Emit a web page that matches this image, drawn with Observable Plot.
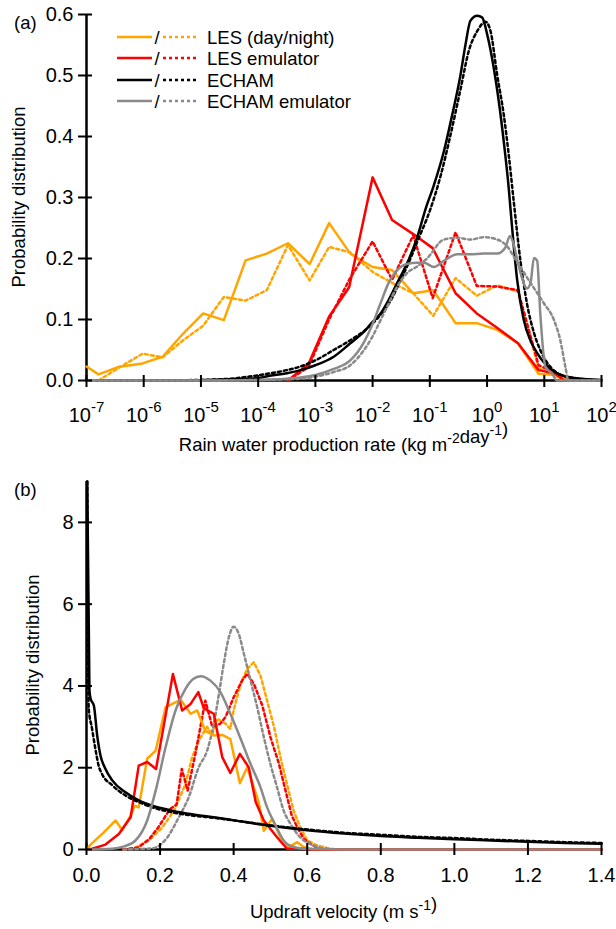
<!DOCTYPE html>
<html>
<head>
<meta charset="utf-8">
<script src="https://cdn.jsdelivr.net/npm/d3@7"></script>
<script src="https://cdn.jsdelivr.net/npm/@observablehq/plot@0.6"></script>
<style>
  body { margin: 0; background: #fff; }
  #chart { position: relative; width: 616px; height: 929px; }
  #chart svg { display: block; }
</style>
</head>
<body>
<div id="chart"></div>
<script>
// ---------- colours & legend ----------
const ORANGE = "#ffa500", RED = "#ff0000", BLACK = "#000000", GREY = "#8a8a8a";
const legendNames = ["LES (day/night)", "LES emulator", "ECHAM", "ECHAM emulator"];
const legendColors = [ORANGE, RED, BLACK, GREY];

// ---------- panel (a): rain water production rate (log10 of kg m-2 day-1) ----------
const rateTicks = [1e-7, 1e-6, 1e-5, 1e-4, 1e-3, 1e-2, 1e-1, 1e0, 1e1, 1e2];
const pdfTicksA = [0, 0.1, 0.2, 0.3, 0.4, 0.5, 0.6];

const lesDayLogR = [-7.0, -6.79, -6.45, -6.02, -5.67, -5.31, -4.96, -4.6, -4.22, -3.85, -3.48, -3.1, -2.76, -2.39, -2.0, -1.66, -1.29, -0.94, -0.55, -0.18, 0.18, 0.54, 0.9, 1.18, 1.4, 2.0];
const lesDayP    = [0.023, 0.010, 0.022, 0.028, 0.039, 0.077, 0.110, 0.099, 0.197, 0.208, 0.225, 0.191, 0.258, 0.208, 0.186, 0.181, 0.143, 0.148, 0.094, 0.094, 0.083, 0.061, 0.011, 0.009, 0, 0];

const lesNightLogR = [-6.79, -6.45, -6.02, -5.67, -5.31, -4.96, -4.6, -4.22, -3.85, -3.48, -3.1, -2.76, -2.39, -2.0, -1.66, -1.29, -0.94, -0.55, -0.18, 0.18, 0.54, 0.9, 1.18, 1.4, 2.0];
const lesNightP    = [0, 0.02, 0.044, 0.038, 0.066, 0.09, 0.137, 0.131, 0.148, 0.222, 0.164, 0.219, 0.21, 0.178, 0.16, 0.143, 0.106, 0.168, 0.139, 0.156, 0.146, 0.02, 0.008, 0, 0];

const lesEmuDayLogR = [-3.48, -3.12, -2.76, -2.41, -2.0, -1.66, -1.29, -0.95, -0.55, -0.18, 0.18, 0.54, 0.9, 1.18, 1.35, 2.0];
const lesEmuDayP    = [0, 0.027, 0.105, 0.153, 0.333, 0.263, 0.24, 0.217, 0.143, 0.11, 0.086, 0.061, 0.017, 0.012, 0, 0];

const lesEmuNightLogR = [-3.48, -3.12, -2.76, -2.41, -2.0, -1.66, -1.29, -0.95, -0.55, -0.18, 0.18, 0.54, 0.9, 1.18, 1.45, 2.0];
const lesEmuNightP    = [0, 0.022, 0.1, 0.165, 0.228, 0.165, 0.238, 0.135, 0.243, 0.155, 0.154, 0.148, 0.025, 0.013, 0.003, 0];

const echamDayLogR = [-7, -6, -5, -4.5, -4, -3.84, -3.5, -3.26, -3.0, -2.68, -2.39, -2.15, -2.02, -1.86, -1.72, -1.57, -1.45, -1.37, -1.22, -1.075, -0.93, -0.756, -0.61, -0.464, -0.376, -0.29, -0.17, -0.085, 0.003, 0.118, 0.206, 0.293, 0.38, 0.41, 0.526, 0.64, 0.76, 0.876, 0.99, 1.22, 1.46, 2.0];
const echamDayP    = [0, 0, 0.0005, 0.002, 0.004, 0.007, 0.012, 0.017, 0.025, 0.039, 0.061, 0.08, 0.094, 0.11, 0.132, 0.16, 0.182, 0.198, 0.235, 0.281, 0.32, 0.375, 0.435, 0.501, 0.551, 0.59, 0.598, 0.595, 0.567, 0.512, 0.457, 0.391, 0.314, 0.281, 0.165, 0.1, 0.065, 0.045, 0.03, 0.012, 0.005, 0.001];

const echamNightLogR = [-7, -6, -5, -4.48, -3.84, -3.5, -3.26, -3.0, -2.68, -2.39, -2.1, -1.86, -1.69, -1.51, -1.37, -1.2, -0.99, -0.81, -0.64, -0.46, -0.32, -0.17, -0.027, 0.06, 0.177, 0.293, 0.38, 0.468, 0.585, 0.70, 0.82, 0.93, 1.11, 1.4, 2.0];
const echamNightP    = [0, 0, 0.001, 0.003, 0.011, 0.017, 0.023, 0.033, 0.05, 0.066, 0.085, 0.108, 0.13, 0.165, 0.193, 0.232, 0.281, 0.336, 0.402, 0.479, 0.54, 0.573, 0.588, 0.573, 0.501, 0.435, 0.369, 0.292, 0.195, 0.125, 0.078, 0.05, 0.022, 0.006, 0];

const echamEmuDayLogR = [-7, -5, -4, -3.5, -3.26, -3.0, -2.68, -2.39, -2.15, -2.02, -1.86, -1.72, -1.57, -1.40, -1.22, -1.1, -0.93, -0.756, -0.52, -0.29, -0.057, 0.177, 0.32, 0.40, 0.456, 0.555, 0.70, 0.76, 0.82, 0.876, 0.93, 1.02, 1.14, 1.22, 2.0];
const echamEmuDayP    = [0, 0, 0.001, 0.003, 0.005, 0.009, 0.019, 0.033, 0.063, 0.088, 0.127, 0.16, 0.181, 0.191, 0.193, 0.193, 0.186, 0.196, 0.207, 0.207, 0.208, 0.208, 0.218, 0.237, 0.226, 0.187, 0.151, 0.16, 0.201, 0.196, 0.11, 0.022, 0.011, 0, 0];

const echamEmuNightLogR = [-7, -5, -4, -3.5, -3.26, -2.68, -2.39, -2.15, -2.02, -1.86, -1.72, -1.57, -1.40, -1.22, -1.05, -0.756, -0.52, -0.29, -0.057, 0.177, 0.35, 0.5, 0.76, 0.99, 1.17, 1.28, 1.37, 1.42, 2.0];
const echamEmuNightP    = [0, 0, 0.001, 0.002, 0.003, 0.014, 0.025, 0.05, 0.069, 0.099, 0.126, 0.154, 0.176, 0.187, 0.2, 0.231, 0.234, 0.231, 0.235, 0.231, 0.22, 0.198, 0.16, 0.127, 0.099, 0.066, 0.022, 0, 0];

// ---------- panel (b): updraft velocity (m s-1) ----------
const velTicks = [0, 0.2, 0.4, 0.6, 0.8, 1.0, 1.2, 1.4];
const pdfTicksB = [0, 2, 4, 6, 8];

const lesDayW = [0.0, 0.011, 0.047, 0.079, 0.097, 0.12, 0.131, 0.142, 0.165, 0.188, 0.215, 0.256, 0.283, 0.301, 0.323, 0.346, 0.37, 0.391, 0.417, 0.437, 0.468, 0.482, 0.505, 0.527, 0.55, 0.573, 0.59, 0.62, 1.4];
const lesDayWP = [0, 0.12, 0.42, 0.71, 0.48, 0.83, 1.07, 1.03, 2.22, 2.42, 3.48, 3.66, 3.32, 3.4, 2.9, 2.79, 2.8, 2.70, 1.62, 2.01, 1.16, 0.46, 0.75, 0.30, 0.06, 0.18, 0.06, 0, 0];

const lesNightW  = [0.1, 0.127, 0.17, 0.206, 0.238, 0.269, 0.287, 0.305, 0.328, 0.342, 0.355, 0.378, 0.391, 0.4, 0.419, 0.437, 0.455, 0.473, 0.491, 0.51, 0.527, 0.545, 0.563, 0.581, 0.6, 0.627, 0.654, 0.68, 1.4];
const lesNightWP = [0, 0.02, 0.22, 0.54, 0.95, 1.6, 2.25, 2.66, 3.0, 2.8, 3.2, 3.08, 2.95, 3.4, 4.05, 4.42, 4.58, 4.25, 3.64, 2.99, 2.26, 1.6, 0.95, 0.54, 0.22, 0.1, 0.04, 0, 0];

const lesEmuDayW  = [0.0, 0.0155, 0.0516, 0.088, 0.12, 0.142, 0.165, 0.189, 0.215, 0.235, 0.26, 0.283, 0.304, 0.319, 0.346, 0.369, 0.391, 0.417, 0.441, 0.46, 0.482, 0.518, 0.545, 0.58, 0.62, 1.4];
const lesEmuDayWP = [0, 0.02, 0.12, 0.38, 0.79, 2.05, 2.14, 1.97, 3.28, 4.29, 3.40, 3.56, 3.85, 3.45, 3.32, 2.26, 1.87, 2.34, 2.01, 1.16, 0.71, 0.30, 0.02, 0.02, 0, 0];

const lesEmuNightW  = [0.1, 0.141, 0.17, 0.195, 0.227, 0.245, 0.259, 0.275, 0.296, 0.323, 0.342, 0.364, 0.378, 0.4, 0.423, 0.437, 0.455, 0.478, 0.5, 0.523, 0.541, 0.558, 0.573, 0.591, 0.61, 0.627, 0.66, 1.4];
const lesEmuNightWP = [0, 0.05, 0.25, 0.54, 0.99, 1.1, 1.97, 1.44, 2.34, 3.64, 3.0, 3.08, 3.24, 3.72, 4.13, 4.3, 4.05, 3.52, 2.75, 2.1, 1.44, 0.83, 0.54, 0.26, 0.13, 0.04, 0, 0];

const echamDayW  = [0.002, 0.008, 0.011, 0.02, 0.029, 0.038, 0.05, 0.07, 0.106, 0.142, 0.179, 0.233, 0.287, 0.351, 0.41, 0.5, 0.6, 0.7, 0.8, 0.9, 1.0, 1.1, 1.2, 1.3, 1.4];
const echamDayWP = [9.0, 3.9, 3.69, 3.52, 2.79, 2.3, 2.0, 1.69, 1.4, 1.2, 1.07, 0.95, 0.86, 0.78, 0.70, 0.58, 0.47, 0.39, 0.33, 0.29, 0.25, 0.22, 0.19, 0.16, 0.14];

const echamNightW  = [0.002, 0.006, 0.015, 0.024, 0.033, 0.042, 0.07, 0.106, 0.142, 0.179, 0.233, 0.287, 0.351, 0.41, 0.5, 0.6, 0.7, 0.8, 0.9, 1.0, 1.1, 1.2, 1.3, 1.4];
const echamNightWP = [9.0, 3.45, 2.96, 2.47, 2.05, 1.85, 1.57, 1.32, 1.16, 1.03, 0.91, 0.83, 0.77, 0.70, 0.59, 0.49, 0.41, 0.36, 0.31, 0.28, 0.24, 0.21, 0.18, 0.16];

const echamEmuDayW  = [0, 0.07, 0.1, 0.133, 0.165, 0.188, 0.215, 0.242, 0.269, 0.29, 0.31, 0.337, 0.364, 0.391, 0.419, 0.446, 0.473, 0.491, 0.514, 0.536, 0.563, 0.6, 0.7, 1.4];
const echamEmuDayWP = [0, 0.02, 0.07, 0.22, 0.71, 1.44, 2.5, 3.4, 3.93, 4.17, 4.24, 4.13, 3.85, 3.32, 2.71, 2.09, 1.52, 1.03, 0.59, 0.22, 0.06, 0.01, 0, 0];

const echamEmuNightW  = [0.1, 0.179, 0.22, 0.251, 0.278, 0.305, 0.328, 0.346, 0.36, 0.373, 0.387, 0.4, 0.414, 0.428, 0.446, 0.464, 0.482, 0.5, 0.518, 0.536, 0.555, 0.573, 0.591, 0.61, 0.636, 0.68, 1.4];
const echamEmuNightWP = [0, 0.03, 0.30, 0.79, 1.28, 2.01, 2.42, 3.07, 3.8, 4.54, 5.19, 5.45, 5.27, 4.78, 4.13, 3.48, 2.75, 2.09, 1.52, 0.95, 0.62, 0.38, 0.22, 0.13, 0.04, 0, 0];

// ---------- helpers ----------
const FONT = '"Liberation Sans", Arial, Helvetica, sans-serif';
const DASH = "3,3";
const LW = 2.5;
const TXT = "18.5px";
const TICK = 20;
const rows = (xs, ys) => xs.map((x, i) => ({x, y: ys[i]}));

function seriesMarks(list, xAcc) {
  return list.map(s => Plot.line(rows(s.xs, s.ys), {
    x: xAcc, y: "y",
    stroke: s.color, strokeWidth: LW,
    strokeDasharray: s.dotted ? DASH : null,
    curve: s.smooth ? "monotone-x" : "linear",
    strokeLinejoin: "round"
  }));
}

function addSupText(svg, x, y, parts, opts = {}) {
  const t = d3.select(svg).append("text")
    .attr("text-anchor", opts.anchor || "middle")
    .attr("font-size", TXT)
    .attr("fill", "#000");
  if (opts.transform) t.attr("transform", opts.transform).attr("x", 0).attr("y", 0);
  else t.attr("x", x).attr("y", y);
  parts.forEach(p => {
    if (p.sup) {
      t.append("tspan").attr("dy", -8).attr("font-size", "14px").text(p.sup);
      t.append("tspan").attr("dy", 8).text("");
    } else {
      t.append("tspan").text(p.t);
    }
  });
  return t;
}

const chart = document.getElementById("chart");

// ---------- panel (a) ----------
const seriesA = [
  {xs: lesNightLogR, ys: lesNightP, color: ORANGE, dotted: true},
  {xs: lesDayLogR, ys: lesDayP, color: ORANGE},
  {xs: lesEmuNightLogR, ys: lesEmuNightP, color: RED, dotted: true},
  {xs: lesEmuDayLogR, ys: lesEmuDayP, color: RED},
  {xs: echamNightLogR, ys: echamNightP, color: BLACK, dotted: true, smooth: true},
  {xs: echamDayLogR, ys: echamDayP, color: BLACK, smooth: true},
  {xs: echamEmuNightLogR, ys: echamEmuNightP, color: GREY, dotted: true, smooth: true},
  {xs: echamEmuDayLogR, ys: echamEmuDayP, color: GREY, smooth: true}
];

const plotA = Plot.plot({
  width: 616, height: 460,
  marginLeft: 86, marginRight: 15, marginTop: 14, marginBottom: 80,
  style: {fontFamily: FONT, fontSize: TXT, color: "#000", background: "#fff", overflow: "visible"},
  x: {type: "log", domain: [1e-7, 1e2]},
  y: {domain: [0, 0.6]},
  marks: [
    Plot.ruleY([0], {strokeWidth: LW}),
    Plot.ruleX([1e-7], {strokeWidth: LW}),
    ...seriesMarks(seriesA, d => 10 ** d.x),
    Plot.axisY({ticks: pdfTicksA, tickSize: 14, dx: 6, tickPadding: 5, fontSize: TICK, tickFormat: d3.format(".1f"), strokeWidth: 2, label: null}),
    Plot.axisX({ticks: rateTicks, tickSize: 12, dy: -5, tickFormat: () => "", strokeWidth: 2, label: null}),
    Plot.axisX({ticks: rateTicks, tickSize: 0, tickPadding: 27, fontSize: TICK, tickFormat: d => "10^" + Math.round(Math.log10(d)), label: null})
  ]
});
chart.appendChild(plotA);

// superscript exponents on log tick labels
d3.select(plotA).selectAll("text").each(function() {
  const s = this.textContent;
  if (s.includes("^")) {
    const [b, e] = s.split("^");
    const sel = d3.select(this);
    sel.text(b);
    sel.append("tspan").attr("dy", -10).attr("font-size", "15px").text(e);
  }
});

// axis titles (a)
addSupText(plotA, 343.5, 451, [{t: "Rain water production rate (kg m"}, {sup: "-2"}, {t: "day"}, {sup: "-1"}, {t: ")"}]);
addSupText(plotA, 0, 0, [{t: "Probability distribution"}], {transform: "translate(25,197) rotate(-90)"});
d3.select(plotA).append("text").attr("x", 14).attr("y", 29).attr("text-anchor", "start").attr("font-size", TXT).text("(a)");

// legend
const legendRowY = [37, 58, 80, 101];
const lg = d3.select(plotA).append("g").attr("aria-label", "legend");
legendNames.forEach((name, i) => {
  const y = legendRowY[i];
  lg.append("line").attr("x1", 117).attr("x2", 152).attr("y1", y).attr("y2", y)
    .attr("stroke", legendColors[i]).attr("stroke-width", LW);
  lg.append("text").attr("x", 157).attr("y", y + 6.5).attr("text-anchor", "middle").attr("font-size", TXT).text("/");
  lg.append("line").attr("x1", 163).attr("x2", 198).attr("y1", y).attr("y2", y)
    .attr("stroke", legendColors[i]).attr("stroke-width", LW).attr("stroke-dasharray", DASH);
  lg.append("text").attr("x", 207).attr("y", y + 6.5).attr("text-anchor", "start").attr("font-size", TXT).text(name);
});

// ---------- panel (b) ----------
const seriesB = [
  {xs: lesNightW, ys: lesNightWP, color: ORANGE, dotted: true},
  {xs: lesEmuNightW, ys: lesEmuNightWP, color: RED, dotted: true},
  {xs: echamEmuNightW, ys: echamEmuNightWP, color: GREY, dotted: true, smooth: true},
  {xs: lesDayW, ys: lesDayWP, color: ORANGE},
  {xs: lesEmuDayW, ys: lesEmuDayWP, color: RED},
  {xs: echamNightW, ys: echamNightWP, color: BLACK, dotted: true, smooth: true},
  {xs: echamDayW, ys: echamDayWP, color: BLACK, smooth: true},
  {xs: echamEmuDayW, ys: echamEmuDayWP, color: GREY, smooth: true}
];

const plotB = Plot.plot({
  width: 616, height: 469,
  marginLeft: 86, marginRight: 15, marginTop: 21, marginBottom: 80,
  style: {fontFamily: FONT, fontSize: TXT, color: "#000", background: "#fff", overflow: "visible"},
  x: {domain: [0, 1.4]},
  y: {domain: [0, 9]},
  marks: [
    Plot.ruleY([0], {strokeWidth: LW}),
    Plot.ruleX([0], {strokeWidth: LW}),
    ...seriesMarks(seriesB, "x"),
    Plot.axisY({ticks: pdfTicksB, tickSize: 14, dx: 6, tickPadding: 5, fontSize: TICK, tickFormat: d => String(d), strokeWidth: 2, label: null}),
    Plot.axisX({ticks: velTicks, tickSize: 12, dy: -6, tickFormat: () => "", strokeWidth: 2, label: null}),
    Plot.axisX({ticks: velTicks, tickSize: 0, tickPadding: 18, fontSize: TICK, tickFormat: d3.format(".1f"), label: null})
  ]
});
chart.appendChild(plotB);

addSupText(plotB, 343.5, 458, [{t: "Updraft velocity (m s"}, {sup: "-1"}, {t: ")"}]);
addSupText(plotB, 0, 0, [{t: "Probability distribution"}], {transform: "translate(39,205) rotate(-90)"});
d3.select(plotB).append("text").attr("x", 14).attr("y", 36).attr("text-anchor", "start").attr("font-size", TXT).text("(b)");
</script>
</body>
</html>
